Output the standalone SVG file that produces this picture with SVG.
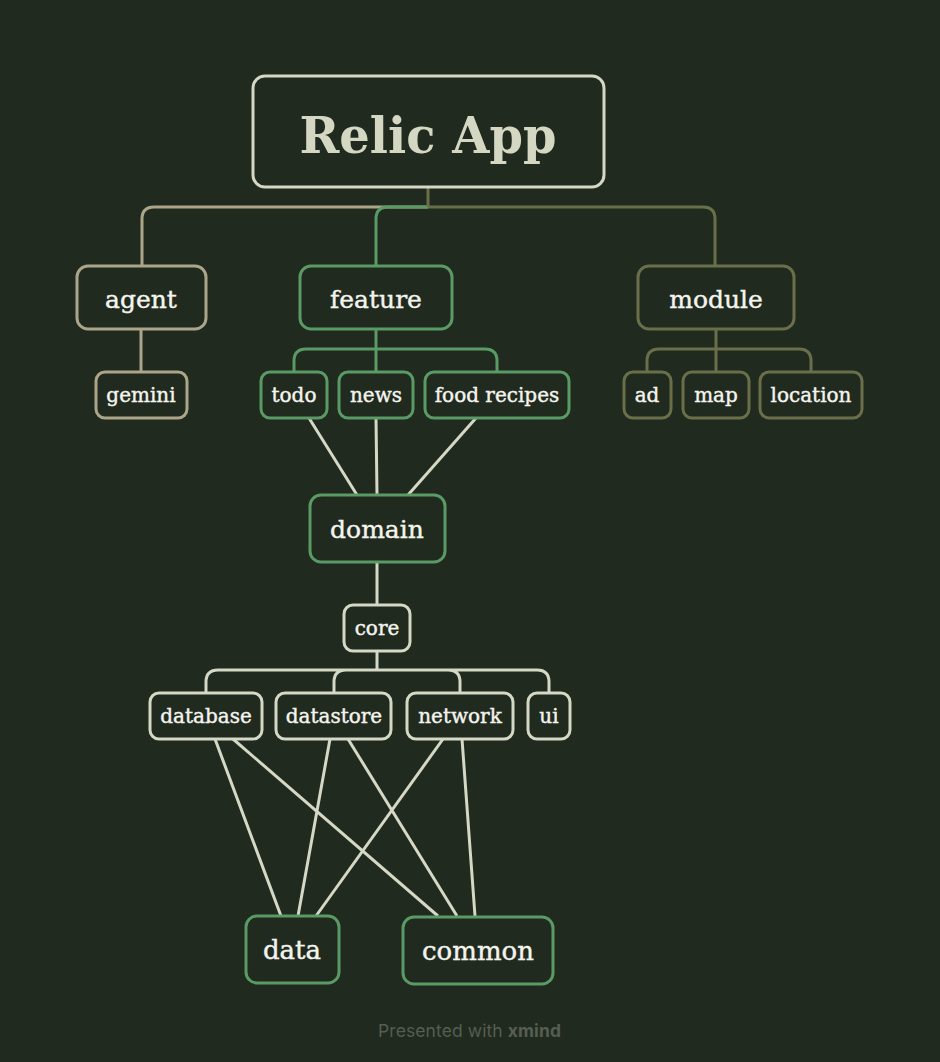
<svg xmlns="http://www.w3.org/2000/svg" width="940" height="1062" viewBox="0 0 940 1062">
<style>
.n{fill:#212a1f;stroke-width:3}
.t{font-family:"DejaVu Serif","Liberation Serif",serif;fill:#f4f4ee;stroke:#f4f4ee;stroke-width:0.4;text-anchor:middle}
.l{fill:none;stroke-width:3}
.tan{stroke:#aba58a}.grn{stroke:#5a9a64}.olv{stroke:#6a6f4a}.lt{stroke:#d4d8c5}
</style>
<rect width="940" height="1062" fill="#212a1f"/>
<g id="connectors">
<path class="l tan" d="M428 207 H154 Q142 207 142 219 V266"/>
<path class="l grn" d="M428 207 H388 Q376 207 376 219 V266"/>
<path class="l olv" d="M428 207 H703 Q715 207 715 219 V266"/>
<path class="l olv" d="M428 187 V207"/>
<path class="l tan" d="M141 329 V372"/>
<path class="l grn" d="M376 329 V372 M376 349 H306 Q294 349 294 361 V372 M376 349 H485 Q497 349 497 361 V372"/>
<path class="l olv" d="M716 329 V372 M716 349 H659 Q647 349 647 361 V372 M716 349 H799 Q811 349 811 361 V372"/>
<path class="l lt" d="M309 418 L357 495 M376 418 L377 495 M476 418 L408 495"/>
<path class="l lt" d="M377 562 V605"/>
<path class="l lt" d="M377 651 V670 M377 670 H218 Q206 670 206 682 V693 M377 670 H346 Q334 670 334 682 V693 M377 670 H448 Q460 670 460 682 V693 M377 670 H537 Q549 670 549 682 V693"/>
<path class="l lt" d="M215 739 L281 916 M233 739 L438 916 M330 739 L298 916 M348 739 L457 916 M443 739 L316 916 M462 739 L475 916"/>
</g>
<g id="root"><rect class="n" x="253" y="76" width="351" height="111" rx="12" stroke="#d5d8c4"/><text class="t" x="428" y="153" font-size="50" font-weight="bold" style="fill:#d4d7c2;stroke:none" textLength="257" lengthAdjust="spacingAndGlyphs">Relic App</text></g>
<g id="agent"><rect class="n tan" x="77" y="266" width="129" height="63" rx="11"/><text class="t" x="141" y="308" font-size="25">agent</text></g>
<g id="feature"><rect class="n grn" x="300" y="266" width="152" height="63" rx="11"/><text class="t" x="376" y="308" font-size="25">feature</text></g>
<g id="module"><rect class="n olv" x="638" y="266" width="156" height="63" rx="11"/><text class="t" x="716" y="308" font-size="25">module</text></g>
<g id="gemini"><rect class="n tan" x="96" y="372" width="91" height="46" rx="9"/><text class="t" x="141" y="402" font-size="20">gemini</text></g>
<g id="todo"><rect class="n grn" x="261" y="372" width="66" height="46" rx="9"/><text class="t" x="294" y="402" font-size="20">todo</text></g>
<g id="news"><rect class="n grn" x="339" y="372" width="74" height="46" rx="9"/><text class="t" x="376" y="402" font-size="20">news</text></g>
<g id="food-recipes"><rect class="n grn" x="425" y="372" width="144" height="46" rx="9"/><text class="t" x="497" y="402" font-size="20">food recipes</text></g>
<g id="ad"><rect class="n olv" x="624" y="372" width="47" height="46" rx="9"/><text class="t" x="647" y="402" font-size="20">ad</text></g>
<g id="map"><rect class="n olv" x="683" y="372" width="66" height="46" rx="9"/><text class="t" x="716" y="402" font-size="20">map</text></g>
<g id="location"><rect class="n olv" x="760" y="372" width="102" height="46" rx="9"/><text class="t" x="811" y="402" font-size="20">location</text></g>
<g id="domain"><rect class="n grn" x="310" y="495" width="135" height="67" rx="11"/><text class="t" x="377" y="538" font-size="25">domain</text></g>
<g id="core"><rect class="n lt" x="344" y="605" width="66" height="46" rx="9"/><text class="t" x="377" y="635" font-size="20">core</text></g>
<g id="database"><rect class="n lt" x="150" y="693" width="112" height="46" rx="9"/><text class="t" x="206" y="723" font-size="20">database</text></g>
<g id="datastore"><rect class="n lt" x="276" y="693" width="115" height="46" rx="9"/><text class="t" x="334" y="723" font-size="20">datastore</text></g>
<g id="network"><rect class="n lt" x="407" y="693" width="106" height="46" rx="9"/><text class="t" x="460" y="723" font-size="20">network</text></g>
<g id="ui"><rect class="n lt" x="528" y="693" width="42" height="46" rx="9"/><text class="t" x="549" y="723" font-size="20">ui</text></g>
<g id="data"><rect class="n grn" x="246" y="916" width="93" height="67" rx="11"/><text class="t" x="292" y="959" font-size="26">data</text></g>
<g id="common"><rect class="n grn" x="403" y="917" width="150" height="67" rx="11"/><text class="t" x="478" y="960" font-size="26">common</text></g>
<text x="378" y="1037" font-family="Inter,'Liberation Sans',sans-serif" font-size="17.5" fill="#565d51" textLength="183" lengthAdjust="spacing">Presented with <tspan font-weight="bold">xmind</tspan></text>
</svg>
